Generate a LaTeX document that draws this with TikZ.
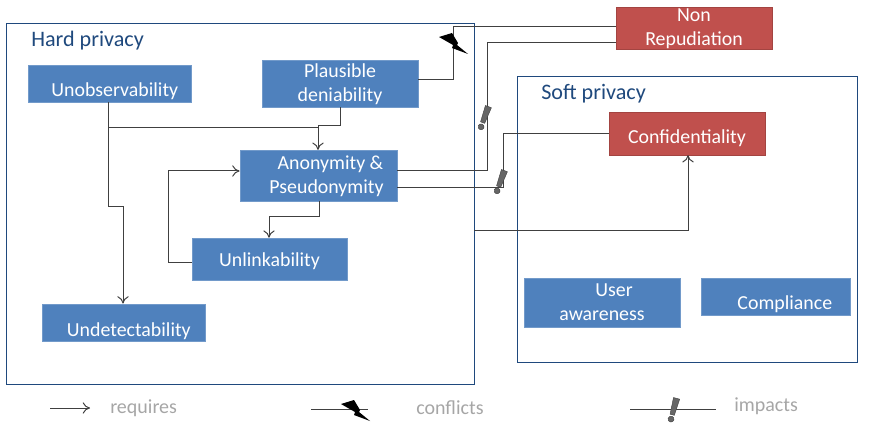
\documentclass[tikz,border=0pt]{standalone}
\usepackage{fontspec}
\setmainfont{Carlito}
\usetikzlibrary{arrows.meta}
\definecolor{boxblue}{HTML}{4F81BD}
\definecolor{boxred}{HTML}{C0504D}
\definecolor{framenavy}{HTML}{1F497D}
\definecolor{legendgray}{HTML}{A6A6A6}
\tikzset{
  privbox/.style={draw=boxblue!80!white, fill=boxblue, text=white, inner sep=0pt, align=center,
                  font=\fontsize{14.9}{18}\selectfont},
  redbox/.style={privbox, draw=boxred!85!black, fill=boxred},
  drop/.style={text height=#1, text depth=0pt},
  lower/.style={text depth=1pt},
  frame/.style={draw=framenavy, line width=0.6pt},
  heading/.style={text=framenavy, anchor=west, inner sep=0pt, font=\fontsize{16.6}{18}\selectfont},
  legendtext/.style={text=legendgray, anchor=west, inner sep=0pt, font=\fontsize{15}{18}\selectfont},
  link/.style={draw=black!75, line width=0.75pt},
  req/.style={link, -{To[length=5.5pt,width=8.5pt]}},
  bolt/.pic={\fill[black] (-14,-6) -- (-1,-10) -- (5,0) -- (4,2) -- (15,11) -- (-1,5) -- (0,2) -- cycle;},
  exclam/.pic={
    \fill[black!60, draw=black!75, line width=0.3pt] (-3.2,-10) -- (3.2,-10) -- (2.2,7) -- (-2.2,7) -- cycle;
    \fill[black!60, draw=black!75, line width=0.3pt] (0,11.5) circle (3);
  }
}
\begin{document}
\begin{tikzpicture}[x=0.75pt, y=-0.75pt]
  \useasboundingbox (0, 0) rectangle (872, 428);
  % the two groups
  \node[frame, minimum width=351pt, minimum height=270.75pt, inner sep=0pt] (hard) at (240, 203.5) {};
  \node[frame, minimum width=255pt, minimum height=214.5pt, inner sep=0pt] (soft) at (687, 219) {};
  \node[heading] (hardtitle) at (31, 41) {Hard privacy};
  \node[heading] (softtitle) at (541, 94) {Soft privacy};
  % boxes
  \node[privbox, drop=20.2pt, minimum width=122pt, minimum height=28pt] (unobs) at (109.5, 83.5) {\hspace*{8pt}Unobservability};
  \node[privbox, lower, minimum width=117pt, minimum height=35pt] (plaus) at (340, 83.5) {Plausible\\deniability};
  \node[privbox, lower, minimum width=118pt, minimum height=38pt] (anon) at (318.5, 175.5) {\hspace*{18pt}Anonymity \&\\\hspace*{12pt}Pseudonymity};
  \node[privbox, drop=10.5pt, minimum width=116pt, minimum height=31.5pt] (unlink) at (269.5, 259) {Unlinkability};
  \node[privbox, drop=20.3pt, minimum width=122pt, minimum height=28pt] (undet) at (123.5, 322.5) {\hspace*{8pt}Undetectability};
  \node[redbox, lower, minimum width=117pt, minimum height=31.5pt] (nonrep) at (694, 28) {Non\\Repudiation};
  \node[redbox, drop=14.3pt, minimum width=117pt, minimum height=32pt] (conf) at (687, 133.5) {Confidentiality};
  \node[privbox, minimum width=117pt, minimum height=37pt] (user) at (602, 302.5) {\hspace*{18pt}User\\awareness};
  \node[privbox, drop=20.2pt, minimum width=112pt, minimum height=28pt] (comply) at (775.5, 296.5) {\hspace*{14pt}Compliance};
  % requires
  \draw[req] (unobs.south -| 108, 0) -- (108, 206) -- (123, 206) -- (undet.north -| 123, 0);
  \draw[link] (108, 128) -- (318, 128);
  \draw[req] (plaus.south -| 340, 0) |- (318, 126) -- (anon.north -| 318, 0);
  \draw[req] (anon.south -| 319, 0) |- (269, 216) -- (unlink.north -| 269, 0);
  \draw[req] (unlink.west |- 0, 262) -| (168, 171) -- (anon.west |- 0, 171);
  \draw[req] (hard.east |- 0, 230) -| (conf.south -| 688, 0);
  % conflicts and impacts
  \draw[link] (plaus.east |- 0, 80) -| (453, 27) -- (nonrep.west |- 0, 27);
  \draw[link] (anon.east |- 0, 171) -| (487, 43) -- (nonrep.west |- 0, 43);
  \draw[link] (anon.east |- 0, 187) -| (503, 134) -- (conf.west |- 0, 134);
  \pic at (453, 43) {bolt};
  \pic[rotate=-20] at (485, 116) {exclam};
  \pic[rotate=-20] at (501, 180) {exclam};
  % legend
  \coordinate (reqa) at (50, 408);
  \coordinate (reqb) at (90, 408);
  \draw[req] (reqa) -- (reqb);
  \node[legendtext] (reqtext) at (110, 408) {requires};
  \coordinate (cfla) at (311, 409);
  \coordinate (cflb) at (368, 409);
  \draw[link] (cfla) -- (cflb);
  \pic at (355, 410) {bolt};
  \node[legendtext] (cfltext) at (416, 408) {conflicts};
  \coordinate (impa) at (630, 409);
  \coordinate (impb) at (716, 409);
  \draw[link] (impa) -- (impb);
  \pic[rotate=-15] at (674, 408) {exclam};
  \node[legendtext] (imptext) at (734, 406) {impacts};
\end{tikzpicture}
\end{document}
